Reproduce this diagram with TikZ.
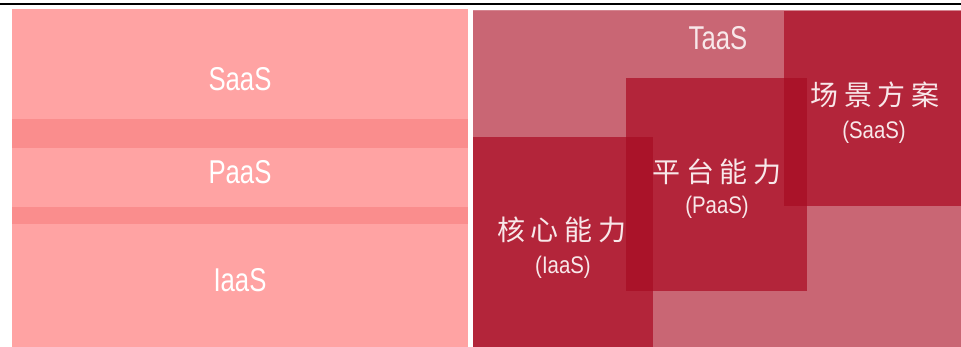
\documentclass[tikz,border=0pt]{standalone}
\usepackage{fontspec}
\setmainfont{Liberation Sans}
\newfontfamily\cjk{Noto Sans CJK SC}
\definecolor{lightpink}{HTML}{FFA3A3}
\definecolor{bandpink}{HTML}{FA8D8D}
\definecolor{bgrose}{HTML}{C96674}
\definecolor{sqred}{HTML}{B3253A}
\definecolor{ovred}{HTML}{AA1329}
\definecolor{txtw}{HTML}{F8E8EA}
\newcommand{\bigtxt}[1]{\scalebox{0.78}[1]{\fontsize{33}{33}\selectfont #1}}
\newcommand{\smalltxt}[1]{\scalebox{0.85}[1]{\fontsize{24}{24}\selectfont #1}}
\newcommand{\cjkgap}{\hspace{6pt}}
\newcommand{\cjktxt}[4]{{\cjk\fontsize{28}{28}\selectfont #1\cjkgap #2\cjkgap #3\cjkgap #4}}
\begin{document}
\begin{tikzpicture}[x=1pt,y=-1pt,
  lbl/.style={inner sep=0pt,text=white},
  rlbl/.style={inner sep=0pt,text=txtw}]
\useasboundingbox (0,0) rectangle (961,347);
\fill[white] (0,0) rectangle (961,347);
% top rule
\fill[black] (0,3) rectangle (961,5.2);
% left panel
\fill[lightpink] (12,9) rectangle (468,347);
\fill[bandpink] (12,119) rectangle (468,148);
\fill[bandpink] (12,207) rectangle (468,224);
\node[lbl] (saasL) at (240,79) {\bigtxt{SaaS}};
\node[lbl] (paasL) at (240,172) {\bigtxt{PaaS}};
\node[lbl] (iaasL) at (240,280) {\bigtxt{IaaS}};
% right panel
\fill[bgrose] (473,10) rectangle (961,347);
\fill[bgrose!80!white] (473,10) rectangle (961,11);
\fill[sqred] (473,137) rectangle (653,347);
\fill[sqred] (626,78) rectangle (807,291);
\fill[sqred] (784,11) rectangle (961,206);
\fill[ovred] (626,137) rectangle (653,291);
\fill[ovred] (784,78) rectangle (807,206);
\node[rlbl] (taas) at (718,38) {\bigtxt{TaaS}};
\node[rlbl] (sceneA) at (875,95) {\cjktxt{场}{景}{方}{案}};
\node[rlbl] (sceneB) at (874,132) {\smalltxt{(SaaS)}};
\node[rlbl] (platA) at (717,172) {\cjktxt{平}{台}{能}{力}};
\node[rlbl] (platB) at (717,207) {\smalltxt{(PaaS)}};
\node[rlbl] (coreA) at (562,230) {\cjktxt{核}{心}{能}{力}};
\node[rlbl] (coreB) at (563,267) {\smalltxt{(IaaS)}};
\end{tikzpicture}
\end{document}
